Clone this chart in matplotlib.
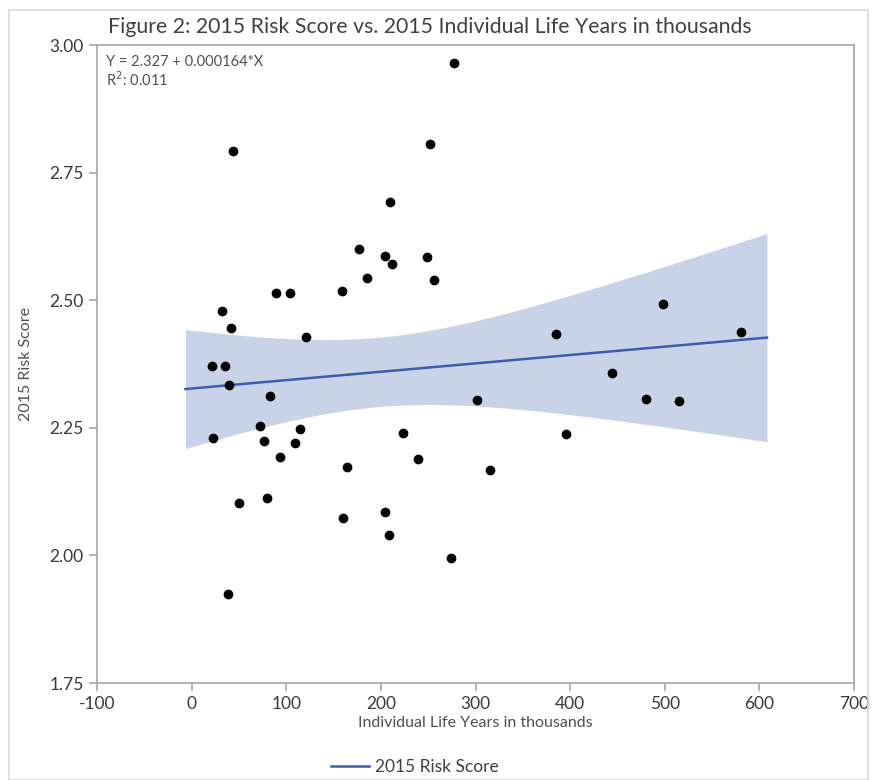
import numpy as np
import matplotlib.pyplot as plt
from matplotlib.patches import Rectangle

# data (x: individual life years in thousands, y: 2015 risk score)
life_years = [43.6, 89.4, 103.5, 32.4, 41.2, 120.4, 21.4, 35.6, 39.4, 82.4,
              71.8, 114.8, 22.2, 76.8, 109.5, 93.7, 49.9, 79.5, 38.0,
              277.7, 252.3, 209.3, 177.3, 203.9, 212.2, 248.6, 185.6, 255.9,
              158.8, 301.3, 223.9, 239.2, 164.6, 315.7, 159.9, 204.2, 208.5,
              274.0,
              385.1, 498.4, 580.1, 443.9, 480.1, 514.9, 396.0]
risk_score = [2.793, 2.515, 2.515, 2.479, 2.446, 2.427, 2.371, 2.371, 2.333, 2.312,
              2.253, 2.248, 2.230, 2.225, 2.220, 2.193, 2.103, 2.112, 1.925,
              2.965, 2.806, 2.693, 2.601, 2.586, 2.570, 2.585, 2.543, 2.539,
              2.518, 2.305, 2.240, 2.188, 2.173, 2.168, 2.073, 2.085, 2.039,
              1.994,
              2.433, 2.492, 2.437, 2.358, 2.306, 2.303, 2.237]

intercept = 2.327
slope = 0.000164
r2 = 0.011

x = np.array(life_years)
y = np.array(risk_score)
n = len(x)

# fit line over data range +/- 5%, with 95% confidence band
span = x.max() - x.min()
xs = np.linspace(x.min() - 0.05 * span, x.max() + 0.05 * span, 200)
yfit = intercept + slope * xs
resid = y - (intercept + slope * x)
s = np.sqrt(np.sum(resid ** 2) / (n - 2))
sxx = np.sum((x - x.mean()) ** 2)
t = 2.017
half = t * s * np.sqrt(1.0 / n + (xs - x.mean()) ** 2 / sxx)

plt.rcParams['font.family'] = ['Lato', 'DejaVu Sans']
plt.rcParams['axes.unicode_minus'] = False
fig = plt.figure(figsize=(8.73, 7.8), dpi=100)

# light frame around the whole picture
fig.patches.append(Rectangle((9 / 873, 0.0), 859 / 873, 1 - 10 / 780,
                             transform=fig.transFigure, fill=False,
                             edgecolor='#d8d8d8', linewidth=1.2))

ax = fig.add_axes([97 / 873, 1 - 683 / 780, (854 - 97) / 873, (683 - 45) / 780])

ax.fill_between(xs, yfit - half, yfit + half, color='#c9d3e8', linewidth=0, zorder=1)
line, = ax.plot(xs, yfit, color='#3c5cb0', linewidth=1.8, zorder=2)
ax.scatter(x, y, s=36, color='black', zorder=3)

ax.set_xlim(-100, 700)
ax.set_ylim(1.75, 3.00)
ax.set_xticks(np.arange(-100, 701, 100))
ax.set_yticks([1.75, 2.00, 2.25, 2.50, 2.75, 3.00])
ax.set_yticklabels(['1.75', '2.00', '2.25', '2.50', '2.75', '3.00'])

for sp in ax.spines.values():
    sp.set_color('#a6a6a6')
    sp.set_linewidth(1.2)
ax.tick_params(colors='#a6a6a6', labelcolor='#3a3a3a', labelsize=12.5,
               length=6, width=1.2)

ax.set_xlabel('Individual Life Years in thousands', fontsize=11.5, color='#505050',
              labelpad=3)
ax.set_ylabel('2015 Risk Score', fontsize=11.5, color='#505050', labelpad=12)

ax.text(0.012, 0.973, 'Y = 2.327 + 0.000164*X', transform=ax.transAxes,
        fontsize=10.5, color='#505050', va='center', ha='left')
ax.text(0.012, 0.946, 'R$^2$: %.3f' % r2, transform=ax.transAxes,
        fontsize=10.5, color='#505050', va='center', ha='left')

fig.text(0.492, 1 - 27 / 780,
         'Figure 2: 2015 Risk Score vs. 2015 Individual Life Years in thousands',
         ha='center', va='center', fontsize=15.3, color='#404040')

fig.legend([line], ['2015 Risk Score'], loc='center', bbox_to_anchor=(0.475, 1 - 767 / 780),
           frameon=False, fontsize=12.5, handlelength=2.2, handletextpad=0.3,
           labelcolor='#404040')

fig.savefig('out.png', dpi=100)
